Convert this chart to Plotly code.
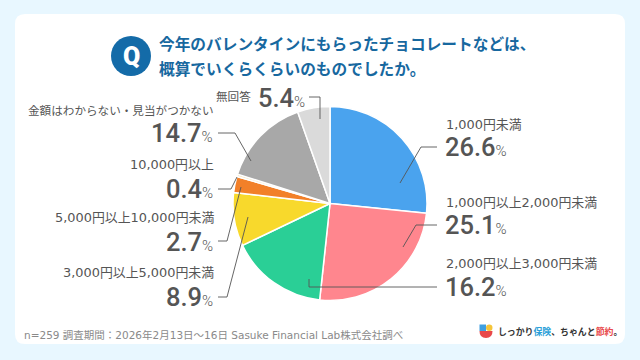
import plotly.graph_objects as go

categories = ["1,000円未満", "1,000円以上2,000円未満", "2,000円以上3,000円未満", "3,000円以上5,000円未満",
              "5,000円以上10,000円未満", "10,000円以上", "金額はわからない・見当がつかない", "無回答"]
values = [26.6, 25.1, 16.2, 8.9, 2.7, 0.4, 14.7, 5.4]
colors = ["#4aa3ee", "#ff868e", "#2acf96", "#f8d92c", "#f28029", "#f6e9c8", "#a8a8a8", "#dadada"]
W, H = 640, 360
X = lambda p: p / W
Y = lambda p: 1 - p / H
CJK = "DejaVu Sans, Noto Sans CJK JP"
TITLE = "Noto Sans CJK JP"
NUM = "Roboto"
GREY = "#555555"

# anchor, label x, label y, value x, value y
label_pos = [("left", 445, 124, 444, 147), ("left", 445, 202, 444, 225), ("left", 445, 263, 444, 287),
             ("right", 215, 272, 214, 297), ("right", 215, 218, 214, 242), ("right", 215, 165, 214, 189),
             ("right", 215, 111, 214, 133), ("right", 252, 97, 306, 98)]
leaders = [
    [(437, 147), (421, 147), (400, 183)],
    [(437, 225), (416, 225), (403, 247)],
    [(437, 287), (309, 287), (309, 279)],
    [(218, 297), (227, 297), (248, 217)],
    [(218, 241), (227, 241), (241, 187)],
    [(218, 189), (231, 189), (237, 177)],
    [(218, 133), (235, 133), (251, 161)],
    [(309, 97), (320, 97), (320, 119)],
]

fig = go.Figure(go.Pie(
    labels=categories, values=values, sort=False, direction="clockwise", rotation=0,
    marker=dict(colors=colors, line=dict(color="white", width=1.5)),
    textinfo="none", hoverinfo="label+percent", showlegend=False,
    domain=dict(x=[X(233), X(427)], y=[Y(300.5), Y(106.5)]),
))

L, R, T, B, C = 15, 625, 14, 344, 10
shapes = [dict(type="path", xref="paper", yref="paper", layer="below", fillcolor="white", line_width=0,
               path=f"M {X(L+C)} {Y(T)} L {X(R-C)} {Y(T)} Q {X(R)} {Y(T)} {X(R)} {Y(T+C)} "
                    f"L {X(R)} {Y(B-C)} Q {X(R)} {Y(B)} {X(R-C)} {Y(B)} "
                    f"L {X(L+C)} {Y(B)} Q {X(L)} {Y(B)} {X(L)} {Y(B-C)} "
                    f"L {X(L)} {Y(T+C)} Q {X(L)} {Y(T)} {X(L+C)} {Y(T)} Z"),
          dict(type="circle", xref="paper", yref="paper", fillcolor="#146ba8", line_width=0,
               x0=X(111), x1=X(151), y0=Y(76), y1=Y(36)),
          # logo icon
          dict(type="rect", xref="paper", yref="paper", fillcolor="#3f9fe0", line_width=0,
               x0=X(479.5), x1=X(486), y0=Y(331), y1=Y(324.5)),
          dict(type="circle", xref="paper", yref="paper", fillcolor="#f5c53a", line_width=0,
               x0=X(486), x1=X(492.5), y0=Y(331), y1=Y(324.5)),
          dict(type="path", xref="paper", yref="paper", fillcolor="#e8484a", line_width=0,
               path=f"M {X(479.5)} {Y(331)} L {X(492.5)} {Y(331)} Q {X(492.5)} {Y(338)} {X(486)} {Y(338)} "
                    f"Q {X(479.5)} {Y(338)} {X(479.5)} {Y(331)} Z")]
for pts in leaders:
    path = " ".join(("M" if i == 0 else "L") + f" {X(a)} {Y(b)}" for i, (a, b) in enumerate(pts))
    shapes.append(dict(type="path", xref="paper", yref="paper", path=path, line=dict(color="#555555", width=0.9)))

ann = []
def text(x, y, s, size, color=GREY, anchor="left", family=CJK, weight=400):
    ann.append(dict(x=X(x), y=Y(y), xref="paper", yref="paper", xanchor=anchor, yanchor="middle", text=s,
                    showarrow=False, align=anchor, borderpad=0,
                    font=dict(family=family, size=size, color=color, weight=weight)))

text(131, 56, "Q", 25, "white", "center", "Roboto", 900)
text(158, 43, "今年のバレンタインにもらったチョコレートなどは、", 15.7, "#17689f", family=TITLE, weight=700)
text(158, 68, "概算でいくらくらいのものでしたか。", 15.7, "#17689f", family=TITLE, weight=700)

for c, v, (a, lx, ly, vx, vy) in zip(categories, values, label_pos):
    pct = f'{v}<span style="font-size:15px;font-weight:300">%</span>'
    text(lx, ly, c, 12.9 if any(ch.isdigit() for ch in c) else 11.6, anchor=a)
    text(vx, vy, pct, 25.5, anchor=a, family=NUM, weight=500)

text(23, 335, "n=259 調査期間：2026年2月13日〜16日 Sasuke Financial Lab株式会社調べ", 10.5, "#8a8a8a")
text(497, 331, '<b>しっかり<span style="color:#2a9fd8">保険</span>、ちゃんと<span style="color:#e8484a">節約</span>。</b>', 8.9, "#333333", family=TITLE)

fig.update_layout(width=W, height=H, margin=dict(l=0, r=0, t=0, b=0), paper_bgcolor="#e8f7ff",
                  plot_bgcolor="white", shapes=shapes, annotations=ann)
fig.write_html("out.html", config=dict(displayModeBar=False),
               post_script="document.body.style.margin='0';document.body.style.overflow='hidden';")
